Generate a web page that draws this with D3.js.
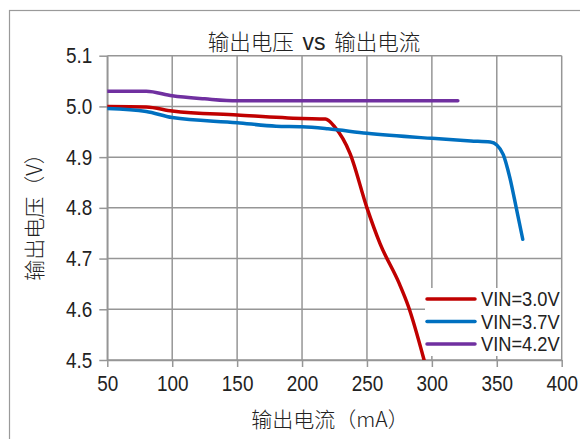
<!DOCTYPE html>
<html>
<head>
<meta charset="utf-8">
<script src="https://cdn.jsdelivr.net/npm/d3@7"></script>
<style>
  body { margin: 0; background: #fff; }
  svg { display: block; }
  .tick text { font-family: "Liberation Sans", Arial, sans-serif; fill: #222; }
</style>
</head>
<body>
<script>
// data
var xTicks = [50, 100, 150, 200, 250, 300, 350, 400];
var yTicks = [4.5, 4.6, 4.7, 4.8, 4.9, 5.0, 5.1];
var seriesNames = ["VIN=3.0V", "VIN=3.7V", "VIN=4.2V"];
var seriesColors = ["#C00000", "#0070C0", "#7030A0"];

var vin30 = [[50, 5.0], [80, 4.999], [100, 4.991], [150, 4.983], [200, 4.976], [218, 4.975],
  [225, 4.96], [237, 4.907], [250, 4.80], [260, 4.73], [275, 4.65], [282, 4.605], [294, 4.5]];
var vin37 = [[50, 4.996], [80, 4.99], [100, 4.978], [150, 4.968], [180, 4.961], [200, 4.96],
  [220, 4.956], [250, 4.947], [300, 4.937], [330, 4.932], [345, 4.93], [350, 4.924],
  [355, 4.905], [360, 4.86], [365, 4.80], [370, 4.738]];
var vin42 = [[50, 5.03], [80, 5.03], [100, 5.021], [125, 5.015], [150, 5.011], [200, 5.011],
  [250, 5.011], [300, 5.011], [320, 5.011]];

var W = 580, H = 439;
var pLeft = 107.3, pRight = 561.7, pTop = 55.7, pBottom = 360;
var narrow = 0.86; // the original digits are a condensed face

var svg = d3.select("body").append("svg")
  .attr("width", W)
  .attr("height", H);

// outer frame
svg.append("rect")
  .attr("x", 9.5).attr("y", 10.5)
  .attr("width", 600).attr("height", 500)
  .attr("fill", "#fff")
  .attr("stroke", "#9a9a9a")
  .attr("stroke-width", 1.2);

var x = d3.scaleLinear().domain([50, 400]).range([pLeft, pRight]);
var y = d3.scaleLinear().domain([4.5, 5.1]).range([pBottom, pTop]);

// grid
svg.append("g").selectAll("line").data(xTicks).enter().append("line")
  .attr("x1", function(d) { return x(d); }).attr("x2", function(d) { return x(d); })
  .attr("y1", pTop).attr("y2", pBottom)
  .attr("stroke", "#969696").attr("stroke-width", 1.5);
svg.append("g").selectAll("line").data(yTicks).enter().append("line")
  .attr("x1", pLeft).attr("x2", pRight)
  .attr("y1", function(d) { return y(d); }).attr("y2", function(d) { return y(d); })
  .attr("stroke", "#969696").attr("stroke-width", 1.5);

// axes
var yAxis = svg.append("g")
  .attr("transform", "translate(" + pLeft + ",0)")
  .call(d3.axisLeft(y).tickValues(yTicks).tickFormat(d3.format(".1f")).tickSizeInner(8).tickSizeOuter(0).tickPadding(7));
var xAxis = svg.append("g")
  .attr("transform", "translate(0," + pBottom + ")")
  .call(d3.axisBottom(x).tickValues(xTicks).tickSizeInner(7).tickSizeOuter(0).tickPadding(8));
[xAxis, yAxis].forEach(function(a) {
  a.select(".domain").attr("stroke", "#969696").attr("stroke-width", 1.5);
  a.selectAll(".tick line").attr("stroke", "#969696").attr("stroke-width", 1.5);
  a.selectAll(".tick text").style("font-size", "22px");
});
xAxis.selectAll(".tick text").attr("transform", "scale(" + narrow + ",1)");
yAxis.selectAll(".tick text")
  .attr("x", -15 / narrow)
  .attr("transform", "scale(" + narrow + ",1)");

// clip to plot area
svg.append("clipPath").attr("id", "plot")
  .append("rect").attr("x", pLeft).attr("y", pTop - 5)
  .attr("width", pRight - pLeft + 5).attr("height", pBottom - pTop + 5);

var line = d3.line()
  .x(function(d) { return x(d[0]); })
  .y(function(d) { return y(d[1]); })
  .curve(d3.curveMonotoneX);

var series = [vin30, vin37, vin42];

// legend background hides the grid behind it
svg.append("rect")
  .attr("x", 425).attr("y", 288)
  .attr("width", 136).attr("height", 68)
  .attr("fill", "#fff");

svg.append("g").attr("clip-path", "url(#plot)")
  .selectAll("path").data(series).enter().append("path")
  .attr("d", line)
  .attr("fill", "none")
  .attr("stroke", function(d, i) { return seriesColors[i]; })
  .attr("stroke-width", 3.5)
  .attr("stroke-linecap", "round");

// legend
var lg = svg.append("g");
seriesNames.forEach(function(name, i) {
  var ly = 299 + i * 22.5;
  lg.append("line")
    .attr("x1", 427).attr("x2", 475)
    .attr("y1", ly).attr("y2", ly)
    .attr("stroke", seriesColors[i]).attr("stroke-width", 3.5)
    .attr("stroke-linecap", "round");
  lg.append("text")
    .attr("transform", "translate(481," + ly + ") scale(" + 0.87 + ",1)")
    .attr("dy", "0.35em")
    .style("font-family", "'Liberation Sans', Arial, sans-serif")
    .style("font-size", "21px")
    .attr("fill", "#222")
    .text(name);
});

// title, with the Latin "vs" in a Latin face
var title = svg.append("text")
  .attr("x", 314).attr("y", 42)
  .attr("dy", "0.35em")
  .attr("text-anchor", "middle")
  .style("font-family", "'Noto Sans CJK SC', sans-serif")
  .style("font-weight", 300)
  .style("font-size", "21.5px")
  .attr("fill", "#222");
title.append("tspan").text("输出电压 ");
title.append("tspan")
  .attr("dx", 4)
  .style("font-family", "'Liberation Sans', Arial, sans-serif")
  .style("font-weight", 400)
  .style("font-size", "23px")
  .text("vs");
title.append("tspan").attr("dx", 4).text(" 输出电流");

// axis titles
svg.append("text")
  .attr("x", 330).attr("y", 420)
  .attr("dy", "0.35em")
  .attr("text-anchor", "middle")
  .style("font-family", "'Noto Sans CJK SC', sans-serif")
  .style("font-weight", 300)
  .style("font-size", "21px")
  .attr("fill", "#222")
  .text("输出电流（mA）");

svg.append("text")
  .attr("transform", "translate(35,212) rotate(-90)")
  .attr("dy", "0.35em")
  .attr("text-anchor", "middle")
  .style("font-family", "'Noto Sans CJK SC', sans-serif")
  .style("font-weight", 300)
  .style("font-size", "21px")
  .attr("fill", "#222")
  .text("输出电压（V）");
</script>
</body>
</html>
